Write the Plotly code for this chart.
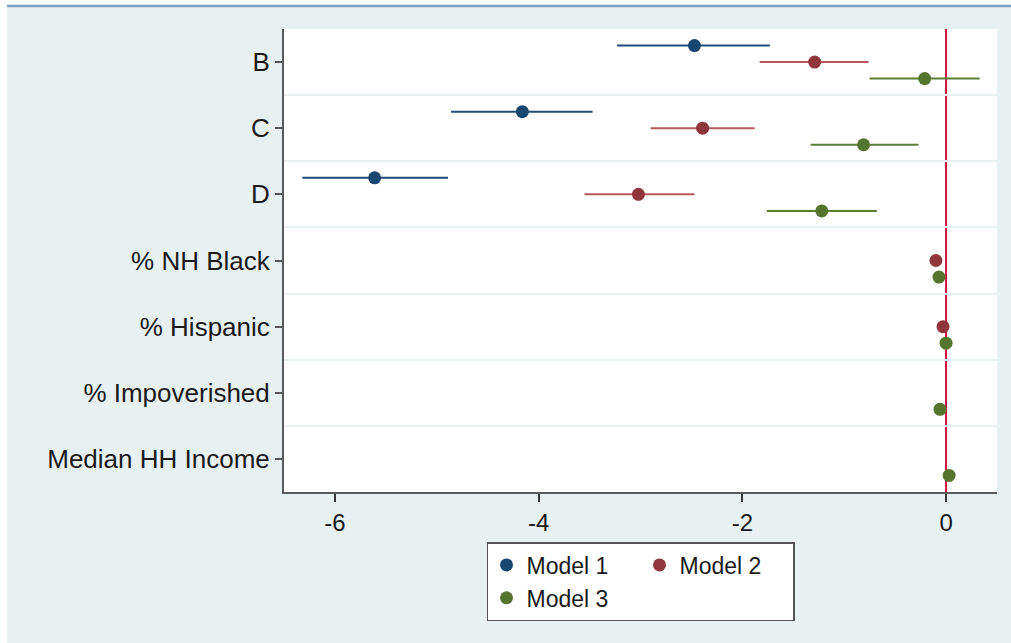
import plotly.graph_objects as go

# ---------------- data ----------------
variables = ["B", "C", "D", "% NH Black", "% Hispanic", "% Impoverished", "Median HH Income"]
models = ["Model 1", "Model 2", "Model 3"]

m1_est = [-2.47, -4.16, -5.61, None, None, None, None]
m1_lo = [-3.23, -4.86, -6.32, None, None, None, None]
m1_hi = [-1.73, -3.47, -4.89, None, None, None, None]

m2_est = [-1.29, -2.39, -3.02, -0.10, -0.03, None, None]
m2_lo = [-1.83, -2.90, -3.55, None, None, None, None]
m2_hi = [-0.76, -1.88, -2.47, None, None, None, None]

m3_est = [-0.21, -0.81, -1.22, -0.07, 0.00, -0.06, 0.03]
m3_lo = [-0.75, -1.33, -1.76, None, None, None, None]
m3_hi = [0.33, -0.27, -0.68, None, None, None, None]

x_ticks = [-6, -4, -2, 0]

# ---------------- styles ----------------
dot_colors = ["#1a476f", "#90353b", "#55752f"]
ci_colors = ["#1f4d78", "#b8585f", "#5c7d36"]
offsets = [-0.25, 0.0, 0.25]
groups = ["g1", "g2", "g1"]
FONT = "Arial, Liberation Sans, sans-serif"
BG = "#e8f1f2"

series = [(m1_est, m1_lo, m1_hi), (m2_est, m2_lo, m2_hi), (m3_est, m3_lo, m3_hi)]

fig = go.Figure()

# confidence interval lines
for k, (est, lo, hi) in enumerate(series):
    xs, ys = [], []
    for i in range(len(variables)):
        if lo[i] is not None and hi[i] is not None:
            xs += [lo[i], hi[i], None]
            ys += [i + offsets[k], i + offsets[k], None]
    fig.add_trace(go.Scatter(
        x=xs, y=ys, mode="lines",
        line=dict(color=ci_colors[k], width=2),
        showlegend=False, hoverinfo="skip", legendgroup=groups[k],
    ))

# point estimates
for k, (est, lo, hi) in enumerate(series):
    xs = [e for e in est if e is not None]
    ys = [i + offsets[k] for i, e in enumerate(est) if e is not None]
    fig.add_trace(go.Scatter(
        x=xs, y=ys, mode="markers", name=models[k],
        marker=dict(color=dot_colors[k], size=13, line=dict(width=0)),
        legendgroup=groups[k],
    ))

# plot-area geometry in pixels (for decorations)
W, H = 1011, 643
L, R, T, B = 284, 14, 29, 151
pw, ph = W - L - R, H - T - B

def px_x(p):
    return (p - L) / pw

def px_y(p):
    return (H - B - p) / ph

fig.update_layout(
    width=W, height=H,
    margin=dict(l=L, r=R, t=T, b=B),
    paper_bgcolor=BG, plot_bgcolor="white",
    font=dict(family=FONT, size=25, color="#1a1a1a"),
    showlegend=True,
    legend=dict(
        orientation="h", traceorder="grouped",
        x=0.5, xanchor="center", y=px_y(542), yanchor="top",
        bgcolor="white", bordercolor="#555555", borderwidth=1.5,
        entrywidth=108, font=dict(size=23, family=FONT),
        tracegroupgap=0,
    ),
    xaxis=dict(
        range=[-6.5, 0.5], tickvals=x_ticks, ticktext=[str(t) for t in x_ticks],
        showgrid=False, zeroline=False,
        showline=True, linecolor="#5a5a5a", linewidth=2,
        ticks="outside", ticklen=8, tickwidth=1.5, tickcolor="#333333",
        tickfont=dict(size=24, family=FONT),
    ),
    yaxis=dict(
        range=[6.5, -0.5], tickvals=list(range(len(variables))), ticktext=variables,
        showgrid=False, zeroline=False,
        showline=True, linecolor="#5a5a5a", linewidth=2,
        ticks="outside", ticklen=7, tickwidth=1.5, tickcolor="#555555",
        tickfont=dict(size=26, family=FONT),
        minor=dict(tickvals=[i + 0.5 for i in range(len(variables) - 1)],
                   showgrid=True, gridcolor="#e8f1f2", gridwidth=2, ticks=""),
    ),
    shapes=[
        # zero reference line
        dict(type="line", xref="x", yref="paper", x0=0, x1=0, y0=0, y1=1,
             line=dict(color="#d0103a", width=2), layer="between"),
        # white page strip at top and left
        dict(type="rect", xref="paper", yref="paper",
             x0=px_x(-5), x1=px_x(W + 5), y0=px_y(5), y1=px_y(-5),
             fillcolor="white", line=dict(width=0), layer="above"),
        dict(type="rect", xref="paper", yref="paper",
             x0=px_x(-5), x1=px_x(7), y0=px_y(H + 5), y1=px_y(-5),
             fillcolor="white", line=dict(width=0), layer="above"),
        # blue rule at top
        dict(type="line", xref="paper", yref="paper",
             x0=px_x(7), x1=px_x(W + 5), y0=px_y(6), y1=px_y(6),
             line=dict(color="#7c9fbd", width=2.5), layer="above"),
    ],
)

fig.write_html("out.html", config={"displayModeBar": False},
               post_script="document.body.style.margin='0';")
